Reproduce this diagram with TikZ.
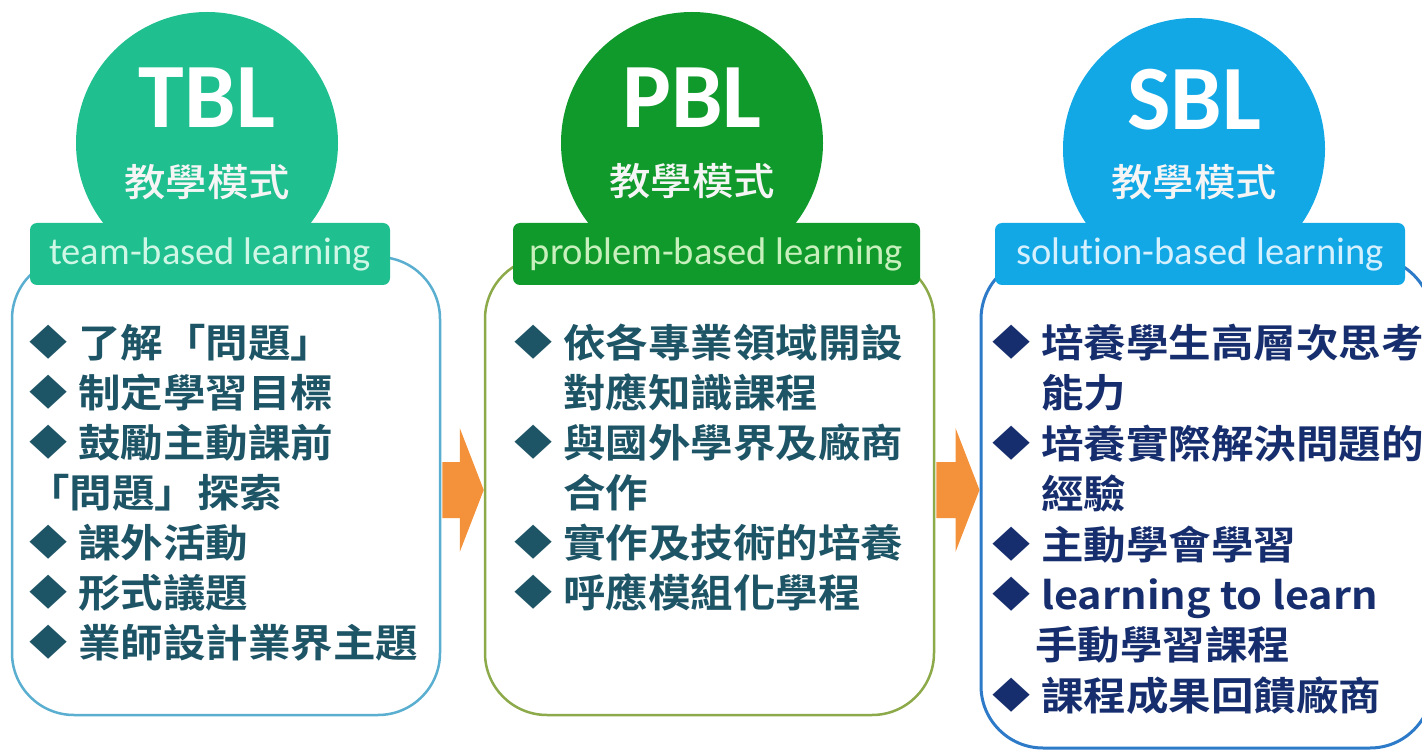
\documentclass[tikz,border=0pt]{standalone}
\usepackage{fontspec}
\usetikzlibrary{calc}
\newfontfamily\cjk{Noto Sans CJK TC Bold}[FakeStretch=1.09]
\newfontfamily\cjkthin{Noto Sans CJK TC Medium}[FakeStretch=1.09]
\newfontfamily\lat{Carlito}[Ligatures=NoCommon]
\definecolor{tblF}{HTML}{1FBF8F}
\definecolor{tblD}{HTML}{5AAFD0}
\definecolor{tblT}{HTML}{1E5566}
\definecolor{tblL}{HTML}{CFF7E6}
\definecolor{pblF}{HTML}{109A2B}
\definecolor{pblD}{HTML}{8DAA4A}
\definecolor{pblL}{HTML}{C7F0BD}
\definecolor{sblF}{HTML}{12A8E6}
\definecolor{sblD}{HTML}{2D7BC8}
\definecolor{sblT}{HTML}{162E6E}
\definecolor{sblL}{HTML}{D5F0FF}
\definecolor{arrF}{HTML}{F3923A}
\tikzset{
  disc/.style={circle, inner sep=0pt, minimum size=262pt},
  tag/.style={rounded corners=7pt, inner sep=0pt, minimum height=62pt, font=\lat\fontsize{38.5}{40}\selectfont},
  card/.style={rounded corners=62pt, draw, line width=2.5pt, fill=white, inner sep=0pt},
  abbr/.style={font=\lat\bfseries\fontsize{92}{92}\selectfont, text=white, inner sep=0pt, anchor=base},
  mode/.style={font=\cjkthin\fontsize{38}{40}\selectfont, text=white!96!black, inner sep=0pt, anchor=base},
  item/.style={font=\cjk\fontsize{39}{50}\selectfont, inner sep=0pt, anchor=base west},
  blockarr/.style={fill=arrF},
}
\newcommand\bul{\hspace{2pt}\raisebox{1.5pt}{\fontsize{35}{35}\selectfont ◆}\hspace{11pt}}
\newcommand\ind{\hspace{51pt}}
\newcommand\blockarrow[2]{\fill[blockarr] ($(#1)+(1,-28)$) -- ($(#2)+(-24,-28)$) -- ($(#2)+(-24,-62)$) -- (#2)
  -- ($(#2)+(-24,62)$) -- ($(#2)+(-24,28)$) -- ($(#1)+(1,28)$) -- cycle;}

\begin{document}
\begin{tikzpicture}[x=1pt, y=-1pt]
\useasboundingbox (0,0) rectangle (1422,751);
\clip (0,0) rectangle (1422,751);
% circles
\node[disc, fill=tblF] (tblc) at (207,143) {};
\node[disc, fill=pblF] (pblc) at (692,143) {};
\node[disc, fill=sblF] (sblc) at (1194,149) {};
\node[abbr] (tblab) at (207,128) {TBL};
\node[abbr] (pblab) at (692,128) {PBL};
\node[abbr] (sblab) at (1194,130) {SBL};
\node[mode] (tblmode) at (207,197) {教學模式};
\node[mode] (pblmode) at (692,196) {教學模式};
\node[mode] (sblmode) at (1194,197) {教學模式};
% cards
\node[card, draw=tblD, minimum width=428, minimum height=458] (tblbox) at (226,486) {};
\node[card, draw=pblD, minimum width=449, minimum height=458] (pblbox) at (709.5,486) {};
\node[card, draw=sblD, line width=3pt, minimum width=451, minimum height=491] (sblbox) at (1206.5,502.5) {};
% tags
\node[tag, fill=tblF, text=tblL, minimum width=360] (tbltag) at (210,254) {team-based learning};
\node[tag, fill=pblF, text=pblL, minimum width=407] (pbltag) at (716.5,254) {problem-based learning};
\node[tag, fill=sblF, text=sblL, minimum width=410] (sbltag) at (1200,254) {solution-based learning};
% items
\foreach \t [count=\i] in {\bul 了解「問題」, \bul 制定學習目標, \bul 鼓勵主動課前, 「問題」探索,
    \bul 課外活動, \bul 形式議題, \bul 業師設計業界主題}
  \node[item, text=tblT] (tbl\i) at (27,{307+50*\i}) {\t};
\foreach \t [count=\i] in {\bul 依各專業領域開設, \ind 對應知識課程, \bul 與國外學界及廠商, \ind 合作,
    \bul 實作及技術的培養, \bul 呼應模組化學程}
  \node[item, text=tblT] (pbl\i) at (512,{307+50*\i}) {\t};
\foreach \t [count=\i] in {\bul 培養學生高層次思考, \ind 能力, \bul 培養實際解決問題的, \ind 經驗,
    \bul 主動學會學習, \bul {\fontsize{38}{50}\selectfont learning to learn}, \hspace{45pt}手動學習課程, \bul 課程成果回饋廠商}
  \node[item, text=sblT] (sbl\i) at (990,{307+50.4*\i}) {\t};
% arrows
\coordinate (ar1s) at (tblbox.east |- 0,490);
\coordinate (ar1e) at (pblbox.west |- 0,490);
\coordinate (ar2s) at (pblbox.east |- 0,490);
\coordinate (ar2e) at (sblbox.west |- 0,490);
\blockarrow{ar1s}{ar1e}
\blockarrow{ar2s}{ar2e}
\end{tikzpicture}
\end{document}
